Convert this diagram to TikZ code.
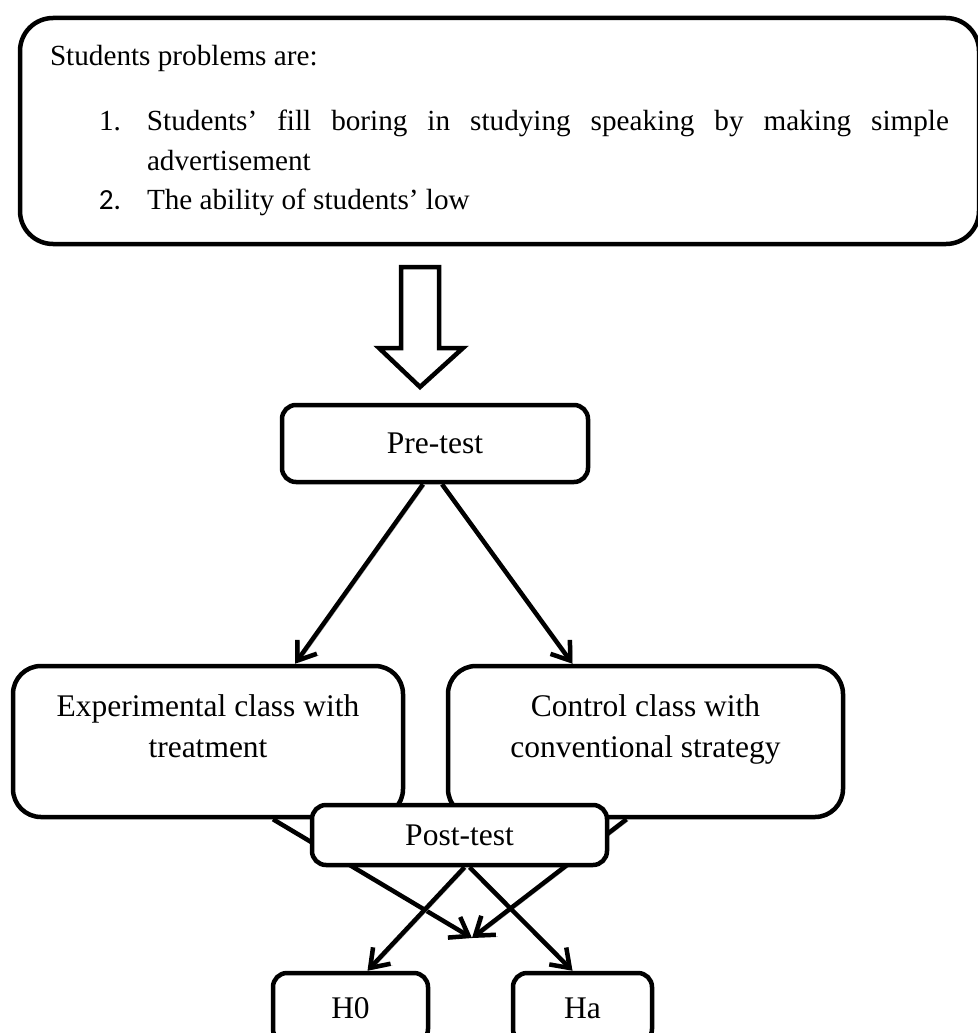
\documentclass[tikz,border=0pt]{standalone}
\usepackage{fontspec}
\setmainfont{Liberation Serif}
\newfontfamily\numfont{Carlito}
\usetikzlibrary{arrows.meta,calc}

\tikzset{
  box/.style={draw, line width=4.5pt, fill=white, rounded corners=14pt, align=center, inner sep=0pt, font=\fontsize{31.5}{41}\selectfont},
  freccia/.style={line width=4.5pt, -{Straight Barb[length=17pt,width=24pt]}, preaction={draw=black!35, transform canvas={shift={(2pt,-1.5pt)}}}},
}

\begin{document}
\begin{tikzpicture}[x=1pt, y=-1pt]
\useasboundingbox (0,0) rectangle (977,1033); % margini della figura
\node[box, rounded corners=33pt, minimum width=959pt, minimum height=226pt, text width=899pt, align=justify, font=\fontsize{29.2}{39.5}\selectfont] (probs) at (499.5,131) {\parindent=0pt \parskip=0pt \tolerance=10000 \hyphenpenalty=10000
Students problems are:\par
\vspace{25.5pt}
\leftskip=97pt
\noindent\llap{1.\hspace{26pt}}Students’ fill boring in studying speaking by making simple advertisement\par
\noindent\llap{{\numfont 2.}\hspace{26pt}}The ability of students’ low\par}; % riquadro dei problemi
\draw[line width=4.5pt, fill=white] (401,267) -- (401,348) -- (379,348) -- (420,387) -- (463,348) -- (439,348) -- (439,267) -- cycle; % freccia vuota verso il pre-test
\node[box, minimum width=306pt, minimum height=77pt] (pre) at (435,443.5) {Pre-test}; % pre-test
\node[box, rounded corners=28pt, minimum width=390pt, minimum height=151pt] (exp) at (208,741.5) {Experimental class with\\treatment\\[-10pt]\mbox{}}; % classe sperimentale
\node[box, rounded corners=28pt, minimum width=395pt, minimum height=151pt] (ctrl) at (645.5,741.5) {Control class with\\conventional strategy\\[-10pt]\mbox{}}; % classe di controllo
\draw[freccia] ($(pre.south)+(-12,0)$) -- ($(exp.north)+(87,0)$); % ramo sinistro
\draw[freccia] ($(pre.south)+(7,0)$) -- ($(ctrl.north)+(-73,0)$); % ramo destro
\coordinate (merge) at (472,938); % punto dove si uniscono le due classi
\draw[freccia] ($(exp.south)+(65,0)$) -- (merge);
\draw[freccia] ($(ctrl.south)+(-19,0)$) -- (merge);
\node[box, minimum width=295pt, minimum height=60pt] (post) at (459.5,835) {Post-test}; % post-test sopra le classi
\node[box, minimum width=155pt, minimum height=70pt] (h0) at (350.5,1008) {H0}; % ipotesi nulla
\node[box, minimum width=139pt, minimum height=70pt] (ha) at (582.5,1008) {Ha}; % ipotesi alternativa
\draw[freccia] ($(post.south)+(5,0)$) -- ($(h0.north)+(17,0)$);
\draw[freccia] ($(post.south)+(10,0)$) -- ($(ha.north)+(-10,0)$);
\end{tikzpicture}
\end{document}
